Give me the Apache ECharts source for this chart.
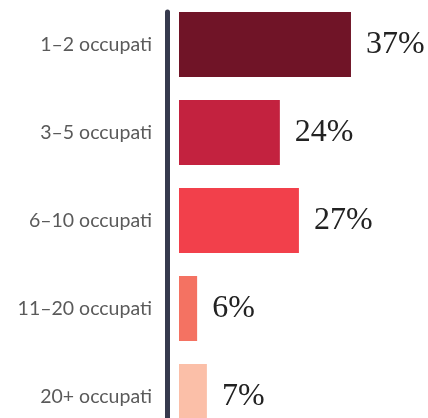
<!DOCTYPE html>
<html>
<head>
<meta charset="utf-8">
<script src="https://cdn.jsdelivr.net/npm/echarts@6/dist/echarts.min.js"></script>
<style>
html,body{margin:0;padding:0;background:#fff;}
#chart{width:428px;height:418px;}
</style>
</head>
<body>
<div id="chart"></div>
<script>
var categories = ['1–2 occupati', '3–5 occupati', '6–10 occupati', '11–20 occupati', '20+ occupati'];
var barValues = [37, 21.7, 25.8, 3.9, 6.0];
var valueLabels = ['37%', '24%', '27%', '6%', '7%'];
var barColors = ['#701427', '#c3223f', '#f2404b', '#f47262', '#fbbfa8'];

var chart = echarts.init(document.getElementById('chart'));
var option = {
  animation: false,
  grid: [
    {left: 179, top: 0.5, width: 232.4, height: 440, outerBoundsMode: 'none', containLabel: false},
    {left: 167.5, top: 12, width: 10, height: 420, outerBoundsMode: 'none', containLabel: false}
  ],
  xAxis: [
    {type: 'value', gridIndex: 0, min: 0, max: 50, show: false},
    {type: 'value', gridIndex: 1, min: 0, max: 1, show: false}
  ],
  yAxis: [
    {
      type: 'category', gridIndex: 0, data: categories, inverse: true,
      offset: 11.5,
      axisLine: {show: false},
      axisTick: {show: false},
      splitLine: {show: false},
      axisLabel: {
        margin: 15.5, color: '#5a5a5a', fontFamily: 'Lato', fontSize: 19.5
      }
    },
    {
      type: 'value', gridIndex: 1, min: 0, max: 1,
      axisLine: {show: true, lineStyle: {color: '#363a4d', width: 5}},
      axisTick: {show: false},
      axisLabel: {show: false},
      splitLine: {show: false}
    }
  ],
  series: [{
    type: 'bar',
    xAxisIndex: 0,
    yAxisIndex: 0,
    barWidth: 65,
    data: barValues.map(function (v, i) {
      return {value: v, itemStyle: {color: barColors[i]}};
    }),
    label: {
      show: true,
      position: 'right',
      distance: 15,
      formatter: function (p) { return valueLabels[p.dataIndex]; },
      fontFamily: 'Liberation Serif',
      fontSize: 32,
      color: '#222222'
    }
  }]
};
chart.setOption(option);
</script>
</body>
</html>
